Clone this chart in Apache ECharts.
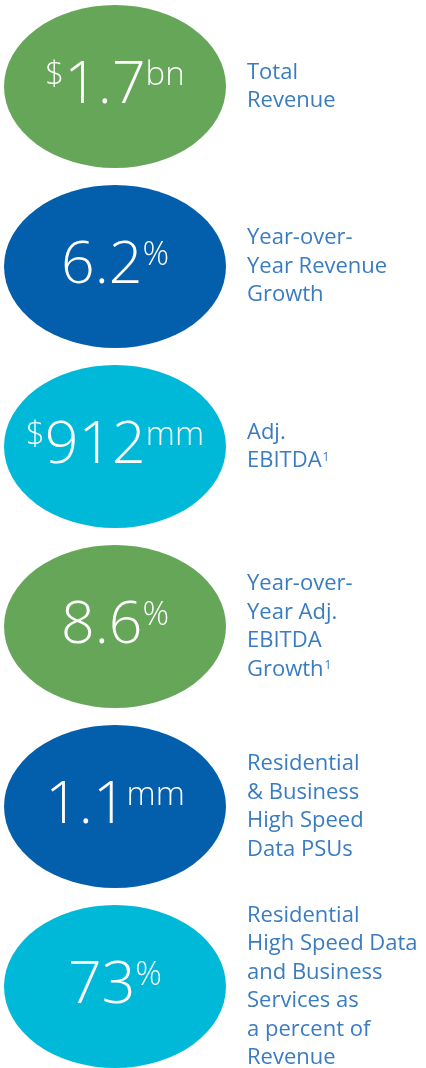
<!DOCTYPE html>
<html>
<head>
<meta charset="utf-8">
<script src="https://cdn.jsdelivr.net/npm/echarts@6/dist/echarts.min.js"></script>
<style>
html,body{margin:0;padding:0;background:#ffffff;}
#chart{width:426px;height:1068px;}
</style>
</head>
<body>
<div id="chart"></div>
<script>
// ---- Data ----
const metrics = [
  'Total Revenue',
  'Year-over-Year Revenue Growth',
  'Adj. EBITDA',
  'Year-over-Year Adj. EBITDA Growth',
  'Residential & Business High Speed Data PSUs',
  'Residential High Speed Data and Business Services as a percent of Revenue'
];
const values = ['1.7', '6.2', '912', '8.6', '1.1', '73'];
const prefixes = ['$', '', '$', '', '', ''];
const units = ['bn', '%', 'mm', '%', 'mm', '%'];
const descriptionLines = [
  ['Total', 'Revenue'],
  ['Year-over-', 'Year Revenue', 'Growth'],
  ['Adj.', 'EBITDA'],
  ['Year-over-', 'Year Adj.', 'EBITDA', 'Growth'],
  ['Residential', '& Business', 'High Speed', 'Data PSUs'],
  ['Residential', 'High Speed Data', 'and Business', 'Services as', 'a percent of', 'Revenue']
];
const footnotes = ['', '', '1', '1', '', ''];
const bubbleColors = ['#66a659', '#035fac', '#00b9d9', '#66a659', '#035fac', '#00b9d9'];

// ---- Styles ----
const textColor = '#3a7cc2';
const ellipseSize = [222, 163];
const numFont = '"Open Sans", sans-serif';
const labelFont = '"Open Sans", sans-serif';

const chart = echarts.init(document.getElementById('chart'), null, {renderer: 'canvas'});

const bubbleData = metrics.map((m, i) => ({
  name: m,
  value: ['figure', i],
  itemStyle: {color: bubbleColors[i], opacity: 1},
  label: {
    formatter: (prefixes[i] ? '{pre|' + prefixes[i] + '}' : '') + '{big|' + values[i] + '}' + '{sup|' + units[i] + '}'
  }
}));

const descData = metrics.map((m, i) => {
  const lines = descriptionLines[i].map((l, j) => {
    let s = '{t|' + l + '}';
    if (j === descriptionLines[i].length - 1 && footnotes[i]) s += '{fn|' + footnotes[i] + '}';
    return s;
  });
  return {name: m, value: ['figure', i], label: {formatter: lines.join('\n')}};
});

chart.setOption({
  animation: false,
  backgroundColor: '#ffffff',
  grid: {left: 4, width: 222, top: 0, bottom: 0},
  xAxis: {type: 'category', data: ['figure'], show: false},
  yAxis: {type: 'value', inverse: true, min: -0.4806, max: 5.4528, show: false, splitLine: {show: false}},
  series: [
    {
      type: 'scatter',
      symbol: 'circle',
      symbolSize: ellipseSize,
      data: bubbleData,
      silent: true,
      itemStyle: {opacity: 1},
      label: {
        show: true,
        position: 'inside',
        align: 'center',
        verticalAlign: 'middle',
        color: '#ffffff',
        fontFamily: numFont,
        rich: {
          big: {fontSize: 59, fontWeight: 300, lineHeight: 64, color: '#ffffff', fontFamily: numFont, verticalAlign: 'middle'},
          sup: {fontSize: 33, fontWeight: 300, lineHeight: 40, color: '#ffffff', fontFamily: numFont, verticalAlign: 'top', padding: [5, 0, 0, 0]},
          pre: {fontSize: 33, fontWeight: 300, lineHeight: 40, color: '#ffffff', fontFamily: numFont, verticalAlign: 'top', padding: [5, 0, 0, 0]}
        }
      }
    },
    {
      type: 'scatter',
      symbol: 'circle',
      symbolSize: ellipseSize,
      itemStyle: {color: 'rgba(255,255,255,0)', opacity: 1},
      data: descData,
      silent: true,
      z: 3,
      label: {
        show: true,
        position: 'right',
        distance: 21,
        align: 'left',
        verticalAlign: 'middle',
        color: textColor,
        fontFamily: labelFont,
        rich: {
          t: {fontSize: 22, fontWeight: 400, lineHeight: 28.5, color: textColor, fontFamily: labelFont},
          fn: {fontSize: 12, fontWeight: 400, lineHeight: 28.5, color: textColor, fontFamily: labelFont, verticalAlign: 'top', padding: [5, 0, 0, 1]}
        }
      }
    }
  ]
});
</script>
</body>
</html>
